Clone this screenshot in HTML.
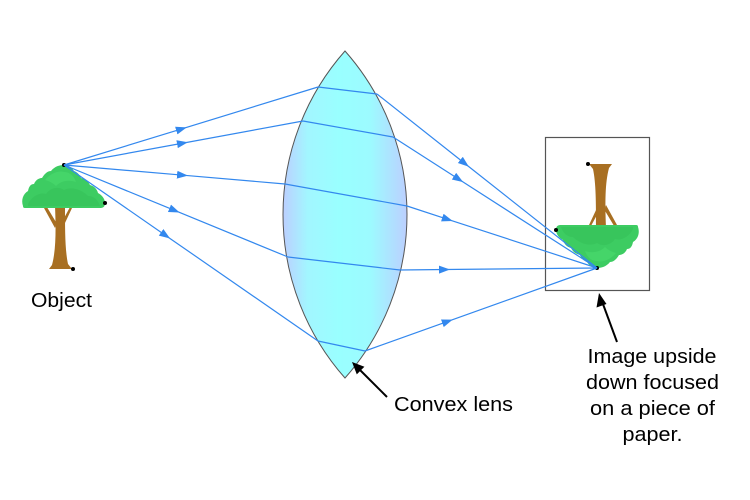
<!DOCTYPE html>
<html>
<head>
<meta charset="utf-8">
<style>
  html, body { margin:0; padding:0; background:#ffffff; }
  svg { display:block; }
  text { font-family: "Liberation Sans", Arial, sans-serif; font-size:20px; fill:#000; }
</style>
</head>
<body>
<svg width="750" height="500" viewBox="0 0 750 500" xmlns="http://www.w3.org/2000/svg">
  <defs>
    <linearGradient id="lensg" gradientUnits="userSpaceOnUse" x1="283" y1="0" x2="407" y2="0">
      <stop offset="0" stop-color="#bccfff"/>
      <stop offset="0.2" stop-color="#a2f6ff"/>
      <stop offset="0.45" stop-color="#99ffff"/>
      <stop offset="0.7" stop-color="#9cfbff"/>
      <stop offset="1" stop-color="#bccfff"/>
    </linearGradient>
    <marker id="ah" markerWidth="12" markerHeight="10" refX="6" refY="4" orient="auto" markerUnits="userSpaceOnUse">
      <path d="M0,0 L11,4 L0,8 Z" fill="#3388ee"/>
    </marker>
    <g id="tree">
      <!-- branches -->
      <path d="M44,208 L47.5,208 L56.5,223 L55,228 Z" fill="#a86f22"/>
      <path d="M69.5,208 L72,208 L64.5,224 L63,220 Z" fill="#a86f22"/>
      <!-- trunk -->
      <path d="M55,206 L65,206 C65,230 65,250 68,264 L72,269 L49,269 L52,265 C56,250 56,230 55,206 Z" fill="#a86f22"/>
      <!-- crown -->
      <path d="M23,206 C21,200 23,194 28,191 C29,186 31,184 34,184 C36,179 40,178 42,178 C45,173 48,171 51,171 C55,166 60,165 64,165 C69,165 72,168 74,171 C77,172 80,175 81,178 C85,179 88,181 90,185 C94,186 97,189 98,193 C102,195 105,199 105,203 C105,207 103,208 100,208 L26,208 C24,208 23,208 23,206 Z" fill="#3dcc62"/>
      <path d="M45,180 C50,174 58,170 64,172 C70,172 74,176 76,182 C70,180 62,180 56,186 C52,182 48,181 45,180 Z" fill="#48d86c" opacity="0.7"/>
      <path d="M28,204 C32,196 40,192 46,194 C50,188 58,186 64,190 C72,186 82,190 88,196 C94,196 98,200 100,206 L28,206 Z" fill="#35bf58" opacity="0.55"/>
      <circle cx="64" cy="165" r="2" fill="#000"/>
      <circle cx="105" cy="203" r="2" fill="#000"/>
      <circle cx="73" cy="269" r="2" fill="#000"/>
    </g>
  </defs>

  <!-- paper -->
  <rect x="545.5" y="137.5" width="104" height="153" fill="#fff" stroke="#555" stroke-width="1.2"/>

  <!-- object tree -->
  <use href="#tree"/>
  <!-- image tree (rotated 180) -->
  <use href="#tree" transform="rotate(180 330.5 216.5)"/>

  <!-- lens -->
  <path d="M345,51 A246.6,246.6 0 0 0 345,378 A246.6,246.6 0 0 0 345,51 Z" fill="url(#lensg)" stroke="#555" stroke-width="1"/>

  <!-- rays -->
  <g fill="none" stroke="#3388ee" stroke-width="1.2">
    <path d="M64,165 L182,128.8 L318,87" marker-mid="url(#ah)"/>
    <path d="M318,87 L377,94"/>
    <path d="M377,94 L465,163.6 L597,268" marker-mid="url(#ah)"/>

    <path d="M64,165 L183,143.1 L303,121" marker-mid="url(#ah)"/>
    <path d="M303,121 L393,137"/>
    <path d="M393,137 L459,179.4 L597,268" marker-mid="url(#ah)"/>

    <path d="M64,165 L183,175.2 L285,184" marker-mid="url(#ah)"/>
    <path d="M285,184 L407,206"/>
    <path d="M407,206 L448,219.4 L597,268" marker-mid="url(#ah)"/>

    <path d="M64,165 L175,210.6 L288,257" marker-mid="url(#ah)"/>
    <path d="M288,257 L400,270"/>
    <path d="M400,270 L445,269.5 L597,268" marker-mid="url(#ah)"/>

    <path d="M64,165 L166,235.7 L318,341" marker-mid="url(#ah)"/>
    <path d="M318,341 L365,351"/>
    <path d="M365,351 L448,321.3 L597,268" marker-mid="url(#ah)"/>
  </g>

  <!-- black pointer arrows -->
  <line x1="387" y1="397" x2="358" y2="368" stroke="#000" stroke-width="2"/>
  <path d="M352,362 L364.4,366.8 L356.8,374.4 Z" fill="#000"/>

  <line x1="617" y1="342" x2="601.5" y2="300" stroke="#000" stroke-width="2"/>
  <path d="M599,293 L606.5,304 L596.5,307.5 Z" fill="#000"/>

  <!-- labels -->
  <text x="31" y="307" textLength="61" lengthAdjust="spacingAndGlyphs">Object</text>
  <text x="394" y="411" textLength="119" lengthAdjust="spacingAndGlyphs">Convex lens</text>
  <text x="587.5" y="363" textLength="129" lengthAdjust="spacingAndGlyphs">Image upside</text>
  <text x="586" y="389" textLength="133" lengthAdjust="spacingAndGlyphs">down focused</text>
  <text x="590" y="415" textLength="125" lengthAdjust="spacingAndGlyphs">on a piece of</text>
  <text x="622.5" y="441" textLength="60" lengthAdjust="spacingAndGlyphs">paper.</text>
</svg>
</body>
</html>
